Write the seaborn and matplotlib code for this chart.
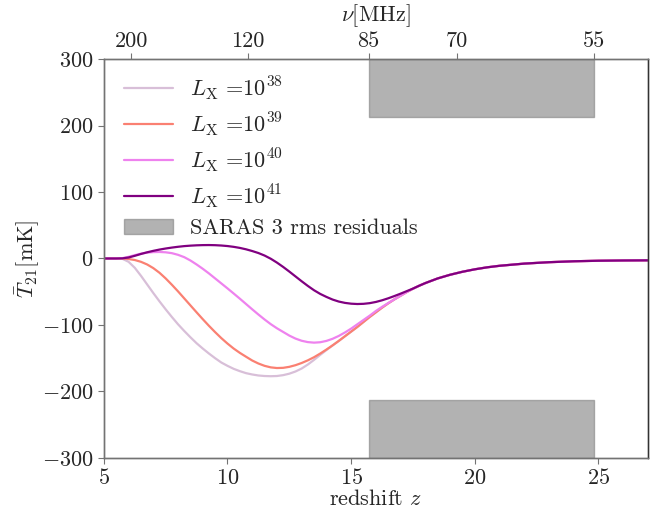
import numpy as np
import pandas as pd
import matplotlib
matplotlib.use("Agg")
import matplotlib.pyplot as plt
import seaborn as sns

# ---- data ----
z = [5, 5.25, 5.5, 5.75,
     6, 6.25, 6.5, 6.75,
     7, 7.25, 7.5, 7.75,
     8, 8.25, 8.5, 8.75,
     9, 9.25, 9.5, 9.75,
     10, 10.25, 10.5, 10.75,
     11, 11.25, 11.5, 11.75,
     12, 12.25, 12.5, 12.75,
     13, 13.25, 13.5, 13.75,
     14, 14.25, 14.5, 14.75,
     15, 15.25, 15.5, 15.75,
     16, 16.25, 16.5, 16.75,
     17, 17.25, 17.5, 17.75,
     18,
     18.5, 19, 19.5, 20, 20.5, 21, 22, 23, 24, 25, 26, 27]

T_38 = [0, 0, 0, -0.5,
        -5, -14, -26, -39,
        -52, -64.5, -76.5, -88,
        -99, -109, -118.5, -127.5,
        -135.5, -143, -150, -156.5,
        -161.5, -166, -169.5, -172.5,
        -174.5, -176, -176.8, -177.1,
        -176.8, -175.5, -173.3, -170,
        -165.5, -159.5, -152.5, -145,
        -137.8, -130.8, -124, -117,
        -110, -103, -95.5, -88,
        -81, -74, -67.5, -61.5,
        -56, -50.5, -45.5, -41,
        -37,
        -30, -24.5, -20, -16.3, -13.3, -11, -7.7, -5.6, -4.2, -3.4, -3, -2.8]

T_39 = [0, 0, 0, 0,
        -0.8, -2.3, -5, -9,
        -14.5, -21.5, -30, -39.5,
        -49.5, -60, -70.5, -81,
        -91.3, -101.3, -110.8, -119.8,
        -128, -135.5, -142, -147.8,
        -153.5, -158, -161.5, -163.8,
        -164.8, -164.5, -163, -160.5,
        -157.2, -153.2, -148.5, -143,
        -137, -130.7, -124, -117,
        -110, -103, -95.5, -88,
        -81, -74, -67.5, -61.5,
        -56, -50.5, -45.5, -41,
        -37,
        -30, -24.5, -20, -16.3, -13.3, -11, -7.7, -5.6, -4.2, -3.4, -3, -2.8]

T_40 = [0, 0, 0, 0.5,
        2.5, 5, 7.3, 8.8,
        9.6, 9.8, 9.3, 8,
        5.5, 2, -3, -9,
        -15.5, -22.5, -30, -37.5,
        -45, -52.7, -60.5, -68.5,
        -76.5, -84.3, -91.8, -98.8,
        -105, -110.5, -116, -120.5,
        -123.8, -125.8, -126.6, -126,
        -124, -120.8, -116.5, -111.3,
        -105.5, -99, -92.5, -86,
        -79, -72.8, -67, -61.5,
        -56, -50.5, -45.5, -41,
        -37,
        -30, -24.5, -20, -16.3, -13.3, -11, -7.7, -5.6, -4.2, -3.4, -3, -2.8]

T_41 = [0, 0, 0, 0.2,
        1.5, 4, 6.8, 9.3,
        11.5, 13.4, 15, 16.4,
        17.6, 18.6, 19.3, 19.8,
        20.1, 20.2, 20, 19.5,
        18.7, 17.5, 15.9, 13.8,
        11.2, 8.2, 4.4, -0.4,
        -6.2, -12.7, -19.7, -27,
        -34.3, -41.3, -47.8, -53.3,
        -57.8, -61.8, -64.8, -66.8,
        -68, -68.5, -68.2, -67.2,
        -65.4, -62.9, -59.9, -56.5,
        -52.9, -49.1, -45.3, -41,
        -37,
        -30, -24.5, -20, -16.3, -13.3, -11, -7.7, -5.6, -4.2, -3.4, -3, -2.8]

series_labels = [r"$L_{\rm X}$ =$10^{38}$", r"$L_{\rm X}$ =$10^{39}$",
                 r"$L_{\rm X}$ =$10^{40}$", r"$L_{\rm X}$ =$10^{41}$"]
series_colors = ["thistle", "salmon", "violet", "purple"]

nu_ticks = [200, 120, 85, 70, 55]          # MHz, top axis
saras_nu = [85, 55]                          # MHz band of SARAS 3
saras_level = 213                            # mK
saras_label = "SARAS 3 rms residuals"
NU21 = 1420.4

# ---- style ----
sns.set_style("ticks")
plt.rcParams["font.family"] = "serif"
plt.rcParams["font.serif"] = ["cmr10"]
plt.rcParams["mathtext.fontset"] = "cm"
plt.rcParams["axes.formatter.use_mathtext"] = True
plt.rcParams["axes.unicode_minus"] = True

fig = plt.figure(figsize=(6.7, 5.18), dpi=100)
ax = fig.add_axes([0.155, 0.116, 0.812, 0.770])

for vals, lab, col in zip([T_38, T_39, T_40, T_41], series_labels, series_colors):
    df = pd.DataFrame({"z": z, "T": vals})
    sns.lineplot(data=df, x="z", y="T", color=col, label=lab, lw=1.6, ax=ax)

z_band = [NU21 / n - 1 for n in saras_nu]
ax.fill_between(z_band, saras_level, 300, color="gray", alpha=0.6,
                label=saras_label, lw=1)
ax.fill_between(z_band, -300, -saras_level, color="gray", alpha=0.6, lw=1)

ax.set_xlim(5, 27)
ax.set_ylim(-300, 300)
ax.set_xticks([5, 10, 15, 20, 25])
ax.set_yticks([-300, -200, -100, 0, 100, 200, 300])
ax.tick_params(labelsize=16, length=4, color="0.45")
ax.set_xlabel(r"redshift $z$", fontsize=16, labelpad=0.5)
ax.set_ylabel(r"$\bar{T}_{21}$[mK]", fontsize=16, labelpad=0)

ax2 = ax.twiny()
ax2.set_xlim(5, 27)
ax2.set_xticks([NU21 / n - 1 for n in nu_ticks])
ax2.set_xticklabels([str(n) for n in nu_ticks])
ax2.tick_params(labelsize=16, length=4, color="0.45", pad=2)
ax2.set_xlabel(r"$\nu$[MHz]", fontsize=16, labelpad=7)

for a in (ax, ax2):
    for s in a.spines.values():
        s.set_color("0.45")
        s.set_linewidth(1.0)
ax2.spines["right"].set_color("0.2")

leg = ax.legend(loc="upper left", bbox_to_anchor=(0.008, 1.0), frameon=False,
                fontsize=16, handlelength=2.2, labelspacing=0.37,
                borderaxespad=0.3)

fig.savefig("out.png", dpi=100)
